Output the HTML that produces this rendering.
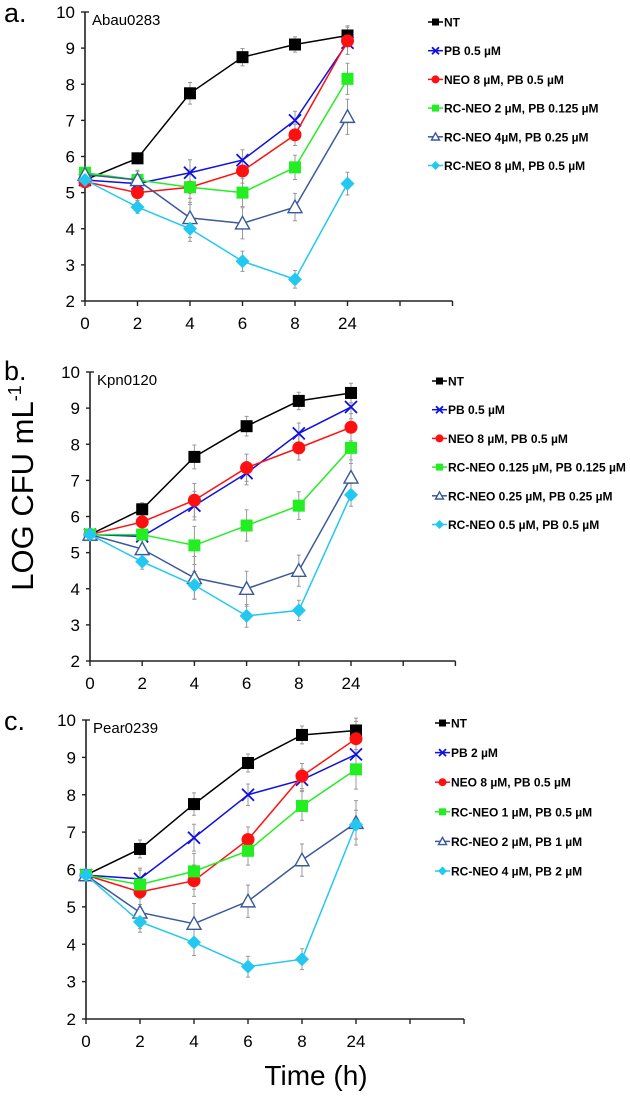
<!DOCTYPE html>
<html><head><meta charset="utf-8"><style>
body{margin:0;background:#fff;}
svg{display:block;font-family:"Liberation Sans",Arial,sans-serif;}
</style></head><body>
<svg id="chart" width="630" height="1096" viewBox="0 0 630 1096" xmlns="http://www.w3.org/2000/svg">
<text transform="translate(33,488) rotate(-90)" text-anchor="middle" font-size="31">LOG CFU mL<tspan font-size="18" dy="-12">-1</tspan></text>
<text x="316" y="1085" text-anchor="middle" font-size="28">Time (h)</text>
</svg>
<script>
const categories = ["0","2","4","6","8","24"];
const yTicks = [2,3,4,5,6,7,8,9,10];
const seriesNames = ["NT","PB","NEO","RC-NEO low","RC-NEO mid","RC-NEO high"];
// panel a
const aNT  = [5.35,5.95,7.75,8.75,9.1,9.35];
const aPB  = [5.35,5.25,5.55,5.9,7.0,9.15];
const aNEO = [5.3,5.0,5.15,5.6,6.6,9.2];
const aRC1 = [5.55,5.35,5.15,5.0,5.7,8.15];
const aRC2 = [5.5,5.35,4.3,4.15,4.6,7.1];
const aRC3 = [5.35,4.6,4.0,3.1,2.6,5.25];
const aErr = [0.1,0.25,0.5,0.4,0.35,0.45];
const aLegend = ["NT","PB 0.5 µM","NEO 8 µM, PB 0.5 µM","RC-NEO 2 µM, PB 0.125 µM","RC-NEO 4µM, PB 0.25 µM","RC-NEO 8 µM, PB 0.5 µM"];
// panel b
const bNT  = [5.5,6.2,7.65,8.5,9.2,9.42];
const bPB  = [5.5,5.45,6.3,7.2,8.3,9.03];
const bNEO = [5.5,5.85,6.45,7.35,7.9,8.47];
const bRC1 = [5.5,5.5,5.2,5.75,6.3,7.9];
const bRC2 = [5.5,5.1,4.3,4.0,4.5,7.08];
const bRC3 = [5.5,4.75,4.1,3.25,3.4,6.6];
const bErr = [0.1,0.3,0.55,0.45,0.4,0.45];
const bLegend = ["NT","PB 0.5 µM","NEO 8 µM, PB 0.5 µM","RC-NEO 0.125 µM, PB 0.125 µM","RC-NEO 0.25 µM, PB 0.25 µM","RC-NEO 0.5 µM, PB 0.5 µM"];
// panel c
const cNT  = [5.85,6.55,7.75,8.85,9.6,9.72];
const cPB  = [5.85,5.75,6.85,8.0,8.4,9.08];
const cNEO = [5.85,5.4,5.7,6.8,8.5,9.5];
const cRC1 = [5.85,5.6,5.95,6.5,7.7,8.68];
const cRC2 = [5.85,4.85,4.55,5.15,6.25,7.25];
const cRC3 = [5.85,4.6,4.05,3.4,3.6,7.2];
const cErr = [0.1,0.4,0.5,0.4,0.4,0.55];
const cLegend = ["NT","PB 2 µM","NEO 8 µM, PB 0.5 µM","RC-NEO 1 µM, PB 0.5 µM","RC-NEO 2 µM, PB 1 µM","RC-NEO 4 µM, PB 2 µM"];

const colors = ["#000000","#1010e0","#ff1010","#22ee22","#3a5a9a","#22c8f0"];
const shapes = ["square","x","circle","square","triangle","diamond"];
const NS = "http://www.w3.org/2000/svg";
const svg = document.getElementById("chart");
function mk(tag, attrs, parent){const e=document.createElementNS(NS,tag);for(const k in attrs)e.setAttribute(k,attrs[k]);(parent||svg).appendChild(e);return e;}

function marker(g, shape, x, y, col, s){
  let m;
  if(shape==="square") m=mk("rect",{x:x-s,y:y-s,width:2*s,height:2*s,fill:col},g);
  else if(shape==="circle") m=mk("circle",{cx:x,cy:y,r:s+0.5,fill:col},g);
  else if(shape==="diamond") m=mk("polygon",{points:`${x},${y-s-1} ${x+s+1},${y} ${x},${y+s+1} ${x-s-1},${y}`,fill:col},g);
  else if(shape==="triangle") m=mk("polygon",{points:`${x},${y-s} ${x+s},${y+s*0.8} ${x-s},${y+s*0.8}`,fill:"#fff",stroke:col,"stroke-width":1.4},g);
  else { m=mk("path",{d:`M${x-s},${y-s}L${x+s},${y+s}M${x-s},${y+s}L${x+s},${y-s}`,stroke:col,"stroke-width":1.8,fill:"none"},g); }
  return m;
}

function panel(p){
  const g=mk("g",{});
  
  
  const xs=i=>p.x0+i*p.step;
  const ys=v=>p.y2-(v-2)*(p.y2-p.y10)/8;
  const ax=mk("path",{d:`M${p.x0},${ys(10)}V${p.y2}H${xs(7)}`,stroke:"#222","stroke-width":1.6,fill:"none"},g);
  
  
  yTicks.forEach(t=>{
    mk("line",{x1:p.x0-4,x2:p.x0,y1:ys(t),y2:ys(t),stroke:"#222","stroke-width":1.4},g);
    const tx=mk("text",{x:p.x0-10,y:ys(t)+6,"text-anchor":"end","font-size":17},g);
    tx.textContent=t;
    
    
  });
  mk("line",{x1:p.x0,x2:p.x0+4,y1:ys(10),y2:ys(10),stroke:"#222","stroke-width":1.4},g);
  for(let i=0;i<=7;i++) mk("line",{x1:xs(i),x2:xs(i),y1:p.y2,y2:p.y2+5,stroke:"#222","stroke-width":1.4},g);
  categories.forEach((c,i)=>{
    const tx=mk("text",{x:xs(i),y:p.y2+28,"text-anchor":"middle","font-size":17},g);
    tx.textContent=c;
    
    
  });
  const lab=mk("text",{x:4,y:p.labY,"font-size":27},g); lab.textContent=p.letter;
  
  
  const tt=mk("text",{x:p.x0+7,y:ys(10)+13,"font-size":15},g); tt.textContent=p.title;
  
  
  p.series.forEach((s,si)=>{
    s.forEach((v,i)=>{
      if(i===0) return;
      const e=p.err[i]*(0.6+0.12*si%0.5);
      mk("path",{d:`M${xs(i)},${ys(v-e)}V${ys(v+e)}M${xs(i)-2},${ys(v-e)}h4M${xs(i)-2},${ys(v+e)}h4`,stroke:"#999","stroke-width":1,fill:"none"},g);
    });
  });
  p.series.forEach((s,si)=>{
    const sg=mk("g",{},g);
    
    
    mk("polyline",{points:s.map((v,i)=>xs(i)+","+ys(v)).join(" "),fill:"none",stroke:colors[si],"stroke-width":1.5},sg);
    s.forEach((v,i)=>{const m=marker(sg,shapes[si],xs(i),ys(v),colors[si],shapes[si]==="circle"?6:(shapes[si]==="triangle"?7:6));
      
      });
  });
  p.legend.forEach((t,i)=>{
    const lg=mk("g",{},g);
    
    
    const y=p.ly0+i*p.ldy;
    mk("line",{x1:p.lx,x2:p.lx+15,y1:y,y2:y,stroke:colors[i],"stroke-width":1.5},lg);
    marker(lg,shapes[i],p.lx+7.5,y,colors[i],shapes[i]==="triangle"?4:3.5);
    const tx=mk("text",{x:p.lx+16,y:y+4.5,"font-size":12,"font-weight":"bold"},lg); tx.textContent=t;
  });
}
panel({name:"panel-a",letter:"a.",labY:22,title:"Abau0283",x0:85,step:52.5,y10:12,y2:301,series:[aNT,aPB,aNEO,aRC1,aRC2,aRC3],err:aErr,legend:aLegend,lx:428,ly0:22,ldy:28.7});
panel({name:"panel-b",letter:"b.",labY:380,title:"Kpn0120",x0:90,step:52.2,y10:372,y2:661,series:[bNT,bPB,bNEO,bRC1,bRC2,bRC3],err:bErr,legend:bLegend,lx:432,ly0:381,ldy:28.7});
panel({name:"panel-c",letter:"c.",labY:730,title:"Pear0239",x0:86,step:54,y10:720,y2:1019,series:[cNT,cPB,cNEO,cRC1,cRC2,cRC3],err:cErr,legend:cLegend,lx:435,ly0:723,ldy:29.6});
</script>
</body></html>
